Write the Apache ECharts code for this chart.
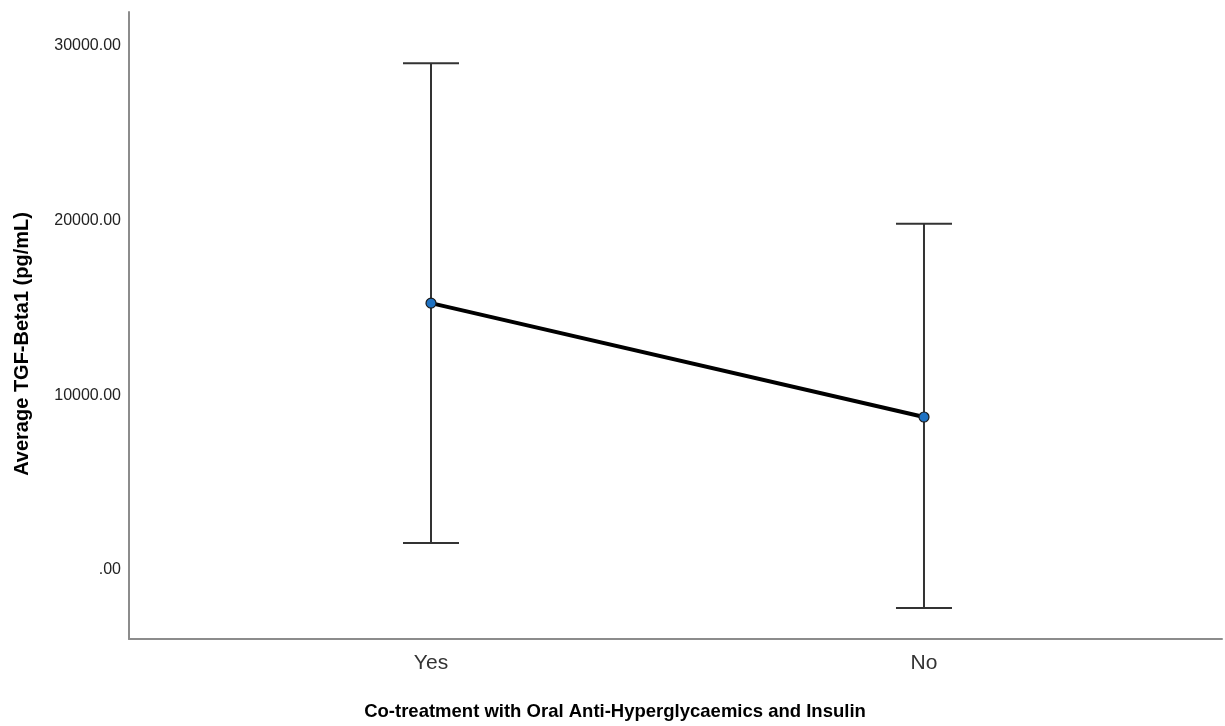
<!DOCTYPE html>
<html>
<head>
<meta charset="utf-8">
<script src="https://cdn.jsdelivr.net/npm/echarts@6/dist/echarts.min.js"></script>
<style>
  html, body { margin: 0; padding: 0; background: #fff; }
  #chart { width: 1225px; height: 726px; }
</style>
</head>
<body>
<div id="chart"></div>
<script>
// Groups and summary statistics of TGF-Beta1 (pg/mL)
const categories = ['Yes', 'No'];
const meanValues = [15280, 8760];
const upperValues = [29020, 19820];
const lowerValues = [1540, -2180];
const yTickValues = [0, 10000, 20000, 30000];

const xTitle = 'Co-treatment with Oral Anti-Hyperglycaemics and Insulin';
const yTitle = 'Average TGF-Beta1 (pg/mL)';

const FONT = '"Liberation Sans", Arial, sans-serif';

const chart = echarts.init(document.getElementById('chart'), null, { renderer: 'canvas' });

const meanData = meanValues.map((v, i) => [i + 1, v]);
const barData = categories.map((c, i) => [i + 1, lowerValues[i], upperValues[i]]);

chart.setOption({
  animation: false,
  backgroundColor: '#ffffff',
  grid: { left: 129, right: 3, top: 12, bottom: 87, containLabel: false },
  xAxis: {
    type: 'value',
    min: 0.3874,
    max: 2.6045,
    axisLine: { show: true, onZero: false, lineStyle: { color: '#8c8c8c', width: 2 } },
    axisTick: { show: false },
    splitLine: { show: false },
    axisLabel: {
      customValues: [1, 2],
      formatter: v => categories[Math.round(v) - 1] || '',
      color: '#333333',
      fontFamily: FONT,
      fontSize: 21,
      margin: 14
    }
  },
  yAxis: {
    type: 'value',
    min: -3950,
    max: 31950,
    axisLine: { show: true, onZero: false, lineStyle: { color: '#8c8c8c', width: 2 } },
    axisTick: { show: false },
    splitLine: { show: false },
    axisLabel: {
      customValues: yTickValues,
      formatter: v => (v === 0 ? '.00' : v.toFixed(2)),
      color: '#222222',
      fontFamily: FONT,
      fontSize: 16,
      margin: 8
    }
  },
  graphic: [
    {
      type: 'text',
      x: 615, y: 712,
      style: {
        text: xTitle,
        font: 'bold 18.5px ' + FONT,
        fill: '#000000',
        align: 'center',
        verticalAlign: 'middle'
      }
    },
    {
      type: 'text',
      x: 22, y: 344,
      rotation: Math.PI / 2,
      style: {
        text: yTitle,
        font: 'bold 20px ' + FONT,
        fill: '#000000',
        align: 'center',
        verticalAlign: 'middle'
      }
    }
  ],
  series: [
    {
      type: 'custom',
      name: 'Error bars',
      data: barData,
      z: 2,
      renderItem: (params, api) => {
        const x = api.value(0);
        const lo = api.coord([x, api.value(1)]);
        const hi = api.coord([x, api.value(2)]);
        const half = 28;
        const style = { stroke: '#333333', lineWidth: 2 };
        return {
          type: 'group',
          children: [
            { type: 'line', shape: { x1: hi[0], y1: hi[1], x2: lo[0], y2: lo[1] }, style },
            { type: 'line', shape: { x1: hi[0] - half, y1: hi[1], x2: hi[0] + half, y2: hi[1] }, style },
            { type: 'line', shape: { x1: lo[0] - half, y1: lo[1], x2: lo[0] + half, y2: lo[1] }, style }
          ]
        };
      }
    },
    {
      type: 'line',
      name: 'Mean',
      data: meanData,
      z: 3,
      symbol: 'circle',
      symbolSize: 10,
      lineStyle: { color: '#000000', width: 4 },
      itemStyle: { color: '#1f72c2', borderColor: '#1a1a1a', borderWidth: 1.2 }
    }
  ]
});
</script>
</body>
</html>
